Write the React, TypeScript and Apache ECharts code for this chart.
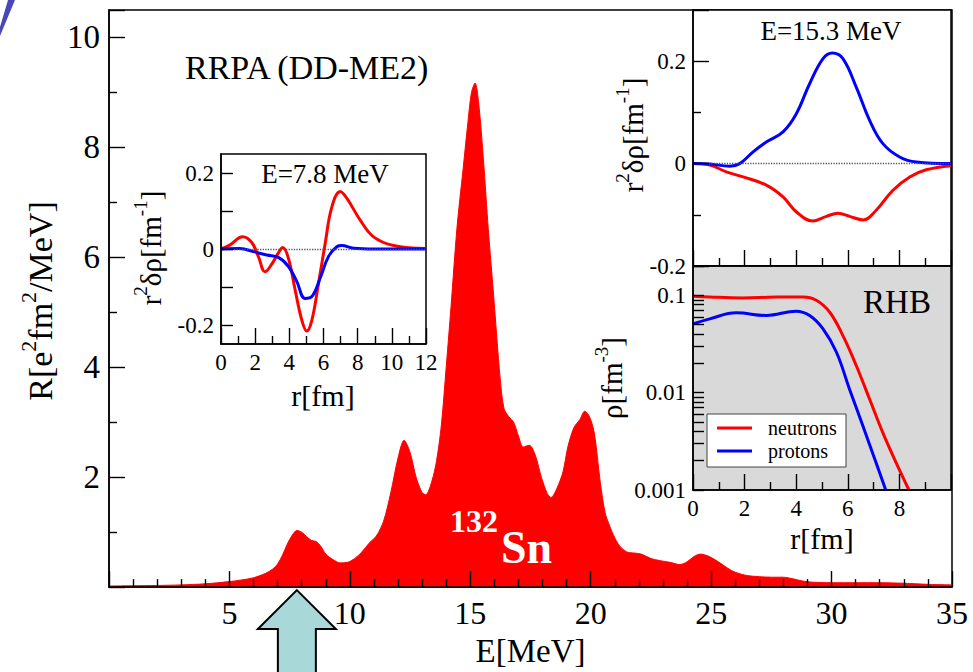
import React, { useEffect, useRef } from 'react';
import * as echarts from 'echarts';

const FONT = 'Liberation Serif, Times New Roman, serif';

// Main strength function R(E) for 132Sn
const E_MAIN = [0, 1, 2, 3, 4, 5, 5.5, 6, 6.5, 6.8, 7, 7.2, 7.4, 7.6, 7.8, 8, 8.2, 8.4, 8.6, 8.8, 9, 9.3, 9.6, 9.9, 10.2, 10.5, 10.8, 11.1, 11.4, 11.7, 12, 12.25, 12.5, 12.75, 13, 13.15, 13.4, 13.6, 13.8, 14, 14.2, 14.45, 14.7, 14.9, 15.05, 15.2, 15.35, 15.55, 15.75, 15.97, 16.24, 16.4, 16.6, 16.8, 17, 17.2, 17.45, 17.7, 17.95, 18.2, 18.35, 18.6, 18.85, 19.05, 19.3, 19.55, 19.75, 19.95, 20.15, 20.4, 20.6, 20.8, 20.95, 21.2, 21.5, 21.8, 22.1, 22.5, 22.9, 23.3, 23.7, 24, 24.3, 24.55, 24.9, 25.3, 25.7, 26, 26.5, 27, 27.5, 28, 28.4, 28.8, 29.2, 30, 31, 32, 33, 34, 35];
const R_MAIN = [0.02, 0.025, 0.03, 0.04, 0.06, 0.1, 0.13, 0.17, 0.25, 0.33, 0.42, 0.58, 0.78, 0.94, 1.03, 1.0, 0.92, 0.85, 0.83, 0.74, 0.6, 0.5, 0.44, 0.45, 0.52, 0.64, 0.8, 0.93, 1.2, 1.72, 2.35, 2.67, 2.45, 2.0, 1.72, 1.68, 1.92, 2.3, 2.95, 4.0, 5.1, 6.55, 7.6, 8.45, 9.0, 9.17, 8.8, 7.75, 6.5, 5.3, 3.8, 3.25, 3.1, 3.0, 2.75, 2.55, 2.58, 2.4, 2.0, 1.7, 1.63, 1.8, 2.1, 2.55, 2.9, 3.05, 3.2, 3.1, 2.8, 1.9, 1.35, 1.1, 0.94, 0.75, 0.64, 0.62, 0.6, 0.52, 0.48, 0.45, 0.41, 0.46, 0.56, 0.6, 0.56, 0.46, 0.34, 0.27, 0.21, 0.19, 0.18, 0.18, 0.15, 0.11, 0.09, 0.08, 0.08, 0.08, 0.07, 0.05, 0.04];

// Inset E=7.8 MeV transition density
const N1_R = [0, 0.53, 1.27, 1.8, 2.19, 2.58, 2.97, 3.36, 3.62, 3.95, 4.34, 4.73, 5.02, 5.32, 5.71, 6.1, 6.49, 6.98, 7.37, 8.15, 8.93, 10.1, 12];
const N1_V = [0, 0.011, 0.032, 0.017, -0.02, -0.06, -0.04, -0.01, 0.004, -0.025, -0.108, -0.187, -0.216, -0.187, -0.09, 0.015, 0.111, 0.151, 0.133, 0.076, 0.032, 0.009, 0.001];
const P1_R = [0, 1.11, 1.9, 2.68, 3.36, 3.95, 4.44, 4.92, 5.32, 5.8, 6.29, 6.78, 7.07, 7.76, 9, 12];
const P1_V = [0, 0.001, -0.007, -0.016, -0.022, -0.046, -0.086, -0.13, -0.125, -0.077, -0.02, 0.006, 0.009, 0.002, 0, 0];

// Inset E=15.3 MeV transition density
const N2_R = [0, 0.65, 1.29, 1.94, 2.84, 3.49, 4.0, 4.63, 5.17, 5.62, 6.07, 6.59, 7.1, 7.75, 8.4, 9.04, 10];
const N2_V = [0, -0.003, -0.016, -0.026, -0.042, -0.065, -0.094, -0.112, -0.103, -0.097, -0.103, -0.11, -0.091, -0.052, -0.026, -0.012, -0.004];
const P2_R = [0, 0.65, 1.42, 1.81, 2.33, 2.84, 3.49, 4.0, 4.52, 5.04, 5.4, 5.81, 6.33, 6.85, 7.36, 8.01, 8.66, 10];
const P2_V = [0, -0.001, -0.005, 0, 0.023, 0.042, 0.062, 0.097, 0.156, 0.205, 0.216, 0.205, 0.149, 0.084, 0.039, 0.013, 0.003, 0];

// RHB ground-state densities
const N3_R = [0, 0.65, 1.94, 3.23, 4.26, 4.78, 5.3, 5.81, 6.33, 6.85, 7.36, 7.88, 8.37];
const N3_V = [0.098, 0.096, 0.094, 0.096, 0.096, 0.089, 0.067, 0.0385, 0.0189, 0.0085, 0.00386, 0.00189, 0.001];
const P3_R = [0, 0.65, 1.68, 2.84, 4.0, 4.52, 5.04, 5.56, 6.07, 6.59, 7.1, 7.47];
const P3_V = [0.0508, 0.0573, 0.066, 0.062, 0.0687, 0.062, 0.0452, 0.026, 0.0108, 0.00452, 0.00189, 0.001];

const MAIN_X_LABELS = [5, 10, 15, 20, 25, 30, 35];
const MAIN_Y_LABELS = [2, 4, 6, 8, 10];
const LIN_LABELS = [-0.2, 0, 0.2];
const LIN_TICKS = [-0.2, -0.1, 0, 0.1, 0.2];
const RHB_X_LABELS = [0, 2, 4, 6, 8];
const LOG_LABELS = [0.001, 0.01, 0.1];
const LOG_TICKS = [0.001, 0.002, 0.003, 0.004, 0.005, 0.006, 0.007, 0.008, 0.009, 0.01, 0.02, 0.03, 0.04, 0.05, 0.06, 0.07, 0.08, 0.09, 0.1, 0.2];
const LEGEND_NAMES = ['neutrons', 'protons'];
const ARROW_E = 7.8;

const zip = (a: number[], b: number[]) => a.map((v, i) => [v, b[i]]);

const TICK_STYLE = { color: '#000', width: 1.4 };

const baseAxis = (fontSize: number, margin: number) => ({
  z: 10,
  axisLine: { show: true, onZero: false, lineStyle: { color: '#000', width: 1.5 } },
  axisTick: { show: true, inside: true, length: 16, lineStyle: TICK_STYLE },
  splitLine: { show: false },
  axisLabel: { color: '#000', fontFamily: FONT, fontSize, margin },
});

const minor = (n: number) => ({ show: true, splitNumber: n, length: 8, lineStyle: TICK_STYLE });

const gridBox = (left: number, top: number, width: number, height: number, bg: string) => ({
  left, top, width, height, show: true, borderColor: '#000', borderWidth: 1.5, backgroundColor: bg,
});

const zeroLine = () => ({
  symbol: 'none', silent: true, label: { show: false },
  lineStyle: { color: '#555', type: 'dotted', width: 1.3 },
  data: [{ yAxis: 0 }],
});

export default function App() {
  const refA = useRef<HTMLDivElement>(null);
  const refB = useRef<HTMLDivElement>(null);
  useEffect(() => {
    document.body.style.margin = '0';
    const chart = echarts.init(refA.current!, null, { renderer: 'svg' });
    const overlay = echarts.init(refB.current!, null, { renderer: 'svg' });
    const b = baseAxis;
    chart.setOption({
      animation: false,
      backgroundColor: '#fff',
      grid: [
        gridBox(109, 10, 843, 590, 'transparent'),
        gridBox(221, 154, 205, 190, '#fff'),
        gridBox(693, 10, 258, 256, '#fff'),
        gridBox(693, 266, 258, 224, '#d9d9d9'),
      ],
      xAxis: [
        {
          ...b(32, 10), gridIndex: 0, type: 'value', min: 0, max: 35, interval: 5, minorTick: minor(5),
          axisLabel: { ...b(32, 10).axisLabel, customValues: MAIN_X_LABELS },
          name: 'E[MeV]', nameLocation: 'middle', nameGap: 41,
          nameTextStyle: { color: '#000', fontFamily: FONT, fontSize: 33 },
        },
        { ...b(23, 7), gridIndex: 1, type: 'value', min: 0, max: 12, interval: 2, minorTick: minor(2) },
        { ...b(23, 7), gridIndex: 2, type: 'value', min: 0, max: 10, interval: 2, minorTick: minor(2), axisLabel: { show: false } },
        {
          ...b(23, 7), gridIndex: 3, type: 'value', min: 0, max: 10, interval: 2, minorTick: minor(2),
          axisLabel: { ...b(23, 7).axisLabel, customValues: RHB_X_LABELS },
        },
      ],
      yAxis: [
        {
          ...b(33, 9), gridIndex: 0, type: 'value', min: 0, max: 10.5, interval: 2, minorTick: minor(2),
          axisLabel: { ...b(33, 9).axisLabel, customValues: MAIN_Y_LABELS },
        },
        {
          ...b(23, 7), gridIndex: 1, type: 'value', min: -0.25, max: 0.25,
          axisTick: { ...b(23, 7).axisTick, length: 12, customValues: LIN_TICKS },
          axisLabel: { ...b(23, 7).axisLabel, customValues: LIN_LABELS },
        },
        {
          ...b(23, 7), gridIndex: 2, type: 'value', min: -0.2, max: 0.3, interval: 0.2, minorTick: minor(2),
          axisLabel: { ...b(23, 7).axisLabel, customValues: LIN_LABELS },
        },
        {
          ...b(23, 7), gridIndex: 3, type: 'log', logBase: 10, min: 0.001, max: 0.2,
          axisTick: { ...b(23, 7).axisTick, length: 11, customValues: LOG_TICKS },
          axisLabel: { ...b(23, 7).axisLabel, customValues: LOG_LABELS },
        },
      ],
      series: [
        {
          name: 'R(E)', type: 'line', xAxisIndex: 0, yAxisIndex: 0, data: zip(E_MAIN, R_MAIN),
          smooth: 0.3, symbol: 'none', lineStyle: { color: '#ff0000', width: 1 },
          areaStyle: { color: '#ff0000', opacity: 1 }, z: 2,
        },
        {
          name: 'neutrons 7.8', type: 'line', xAxisIndex: 1, yAxisIndex: 1, data: zip(N1_R, N1_V),
          smooth: 0.4, symbol: 'none', lineStyle: { color: '#ff0000', width: 3 }, markLine: zeroLine(), z: 3,
        },
        {
          name: 'protons 7.8', type: 'line', xAxisIndex: 1, yAxisIndex: 1, data: zip(P1_R, P1_V),
          smooth: 0.4, symbol: 'none', lineStyle: { color: '#0000ff', width: 3 }, z: 4,
        },
        {
          name: 'neutrons 15.3', type: 'line', xAxisIndex: 2, yAxisIndex: 2, data: zip(N2_R, N2_V),
          smooth: 0.4, symbol: 'none', lineStyle: { color: '#ff0000', width: 3 }, markLine: zeroLine(), z: 3,
        },
        {
          name: 'protons 15.3', type: 'line', xAxisIndex: 2, yAxisIndex: 2, data: zip(P2_R, P2_V),
          smooth: 0.4, symbol: 'none', lineStyle: { color: '#0000ff', width: 3 }, z: 4,
        },
        {
          name: 'neutrons', type: 'line', xAxisIndex: 3, yAxisIndex: 3, data: zip(N3_R, N3_V),
          smooth: 0.4, symbol: 'none', lineStyle: { color: '#ff0000', width: 3 }, z: 3,
        },
        {
          name: 'protons', type: 'line', xAxisIndex: 3, yAxisIndex: 3, data: zip(P3_R, P3_V),
          smooth: 0.4, symbol: 'none', lineStyle: { color: '#0000ff', width: 3 }, z: 4,
        },
      ],
    });

    const tip = chart.convertToPixel({ xAxisIndex: 0, yAxisIndex: 0 } as any, [ARROW_E, 0]) as number[];
    const ax = tip[0];
    const ay = tip[1] + 3;

    const txt = (x: number, y: number, text: string, fontSize: number, align = 'center', extra: any = {}) => ({
      type: 'text', x, y, z: 100,
      style: { text, fill: '#000', fontSize, fontFamily: FONT, align, verticalAlign: 'middle', ...extra },
    });
    const richLabel = (x: number, y: number, text: string, size: number, sup: number, raise: number) => ({
      type: 'text', x, y, rotation: Math.PI / 2, z: 100,
      style: {
        text, align: 'center', verticalAlign: 'middle', fill: '#000', fontSize: size, fontFamily: FONT,
        rich: {
          a: { fontSize: size, fontFamily: FONT, fill: '#000', verticalAlign: 'bottom' },
          s: { fontSize: sup, fontFamily: FONT, fill: '#000', verticalAlign: 'bottom', padding: [0, 0, raise, 0] },
        },
      },
    });

    overlay.setOption({
      animation: false,
      backgroundColor: 'transparent',
      graphic: {
        elements: [
          {
            type: 'polygon', z: 100,
            shape: { points: [[0, 27], [0, 36], [15, 0], [8, 0]] },
            style: { fill: '#4848b8', stroke: 'none' },
          },
          txt(185, 67, 'RRPA (DD-ME2)', 34, 'left'),
          txt(325, 174, 'E=7.8 MeV', 27),
          txt(831, 31, 'E=15.3 MeV', 27),
          txt(897, 302, 'RHB', 33),
          txt(323, 395, 'r[fm]', 30),
          txt(822, 538, 'r[fm]', 30),
          txt(450, 521, '132', 32, 'left', { fill: '#fff', fontWeight: 'bold' }),
          txt(501, 547, 'Sn', 46, 'left', { fill: '#fff', fontWeight: 'bold' }),
          richLabel(37, 301, '{a|R[e}{s|2}{a|fm}{s|2}{a|/MeV]}', 34, 22, 18),
          richLabel(148, 248, '{a|r}{s|2}{a|δρ[fm}{s|-1}{a|]}', 29, 19, 15),
          richLabel(630, 135, '{a|r}{s|2}{a|δρ[fm}{s|-1}{a|]}', 29, 19, 15),
          richLabel(609, 378, '{a|ρ[fm}{s|-3}{a|]}', 29, 19, 15),
          {
            type: 'rect', z: 90,
            shape: { x: 707, y: 414, width: 139, height: 53 },
            style: { fill: '#fff', stroke: '#444', lineWidth: 1 },
          },
          {
            type: 'line', z: 95, shape: { x1: 717, y1: 428, x2: 752, y2: 428 },
            style: { stroke: '#ff0000', lineWidth: 3 },
          },
          {
            type: 'line', z: 95, shape: { x1: 717, y1: 451, x2: 752, y2: 451 },
            style: { stroke: '#0000ff', lineWidth: 3 },
          },
          txt(768, 428, LEGEND_NAMES[0], 20, 'left'),
          txt(768, 451, LEGEND_NAMES[1], 20, 'left'),
          {
            type: 'polygon', z: 100,
            shape: {
              points: [
                [ax, ay], [ax + 39, ay + 39], [ax + 19, ay + 39], [ax + 19, 690],
                [ax - 19, 690], [ax - 19, ay + 39], [ax - 39, ay + 39],
              ],
            },
            style: { fill: '#a8d8d8', stroke: '#000', lineWidth: 2 },
          },
        ],
      },
    });
    return () => {
      overlay.dispose();
      chart.dispose();
    };
  }, []);
  return (
    <div style={{ position: 'absolute', left: 0, top: 0, width: 973, height: 672 }}>
      <div ref={refA} style={{ position: 'absolute', left: 0, top: 0, width: 973, height: 672 }} />
      <div ref={refB} style={{ position: 'absolute', left: 0, top: 0, width: 973, height: 672, pointerEvents: 'none' }} />
    </div>
  );
}
